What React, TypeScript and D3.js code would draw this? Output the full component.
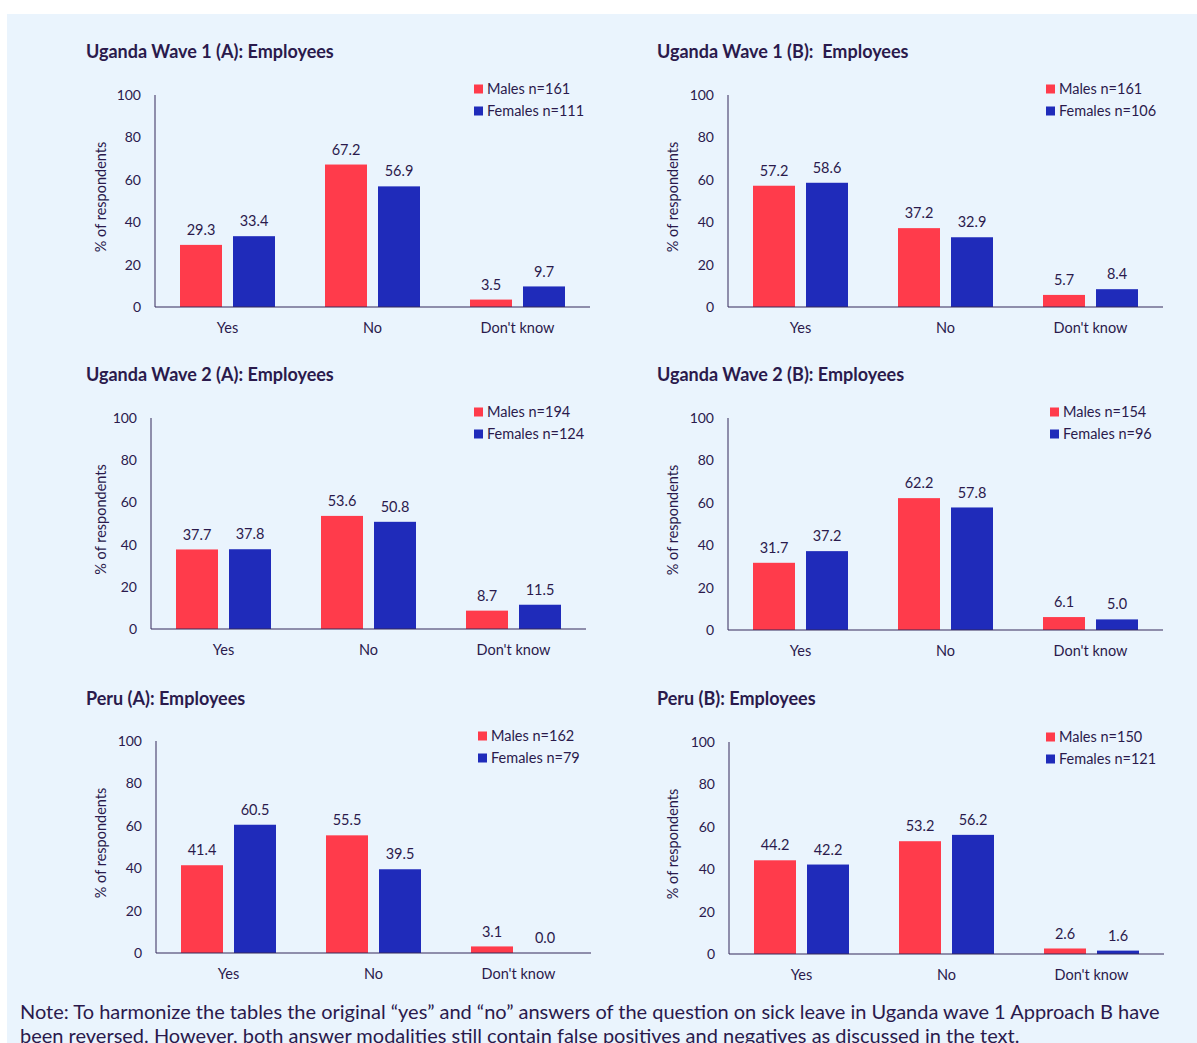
import React from "react";
import * as d3 from "d3";

// Answer categories shared by every panel
const categories = ["Yes", "No", "Don't know"];
const yTicks = [0, 20, 40, 60, 80, 100];

const titles = [
  "Uganda Wave 1 (A): Employees",
  "Uganda Wave 1 (B):  Employees",
  "Uganda Wave 2 (A): Employees",
  "Uganda Wave 2 (B): Employees",
  "Peru (A): Employees",
  "Peru (B): Employees",
];

// Share of respondents (%) per category, one row per panel
const malesValues = [
  [29.3, 67.2, 3.5],
  [57.2, 37.2, 5.7],
  [37.7, 53.6, 8.7],
  [31.7, 62.2, 6.1],
  [41.4, 55.5, 3.1],
  [44.2, 53.2, 2.6],
];
const femalesValues = [
  [33.4, 56.9, 9.7],
  [58.6, 32.9, 8.4],
  [37.8, 50.8, 11.5],
  [37.2, 57.8, 5.0],
  [60.5, 39.5, 0.0],
  [42.2, 56.2, 1.6],
];
const malesN = [161, 161, 194, 154, 162, 150];
const femalesN = [111, 106, 124, 96, 79, 121];

const noteLines = [
  "Note: To harmonize the tables the original \u201cyes\u201d and \u201cno\u201d answers of the question on sick leave in Uganda wave 1 Approach B have",
  "been reversed. However, both answer modalities still contain false positives and negatives as discussed in the text.",
];

// Panel placement on the page
const layout = [
  { titleX: 86, titleY: 52, axisX: 155, top: 95, bottom: 307, legendX: 474, legendY: 89, labelX: 101 },
  { titleX: 657, titleY: 52, axisX: 728, top: 95, bottom: 307, legendX: 1046, legendY: 89, labelX: 673 },
  { titleX: 86, titleY: 375, axisX: 151, top: 418, bottom: 629, legendX: 474, legendY: 412, labelX: 101 },
  { titleX: 657, titleY: 375, axisX: 728, top: 418, bottom: 630, legendX: 1050, legendY: 412, labelX: 673 },
  { titleX: 86, titleY: 699, axisX: 156, top: 741, bottom: 953, legendX: 478, legendY: 736, labelX: 101 },
  { titleX: 657, titleY: 699, axisX: 729, top: 742, bottom: 954, legendX: 1046, legendY: 737, labelX: 673 },
];

const W = 1197;
const H = 1043;
const BG = "#EAF4FD";
const RED = "#FF3B4B";
const BLUE = "#1F2BBA";
const TEXT = "#2A1A4C";
const AXIS = "#35295A";
const FONT = "Lato, 'Open Sans', sans-serif";
const PLOT_W = 435;

function Panel({ i }: { i: number }) {
  const L = layout[i];
  const y = d3.scaleLinear().domain([0, 100]).range([L.bottom, L.top]);
  const x0 = d3
    .scaleBand<string>()
    .domain(categories)
    .range([L.axisX, L.axisX + PLOT_W])
    .padding(0);
  const x1 = d3
    .scaleBand<string>()
    .domain(["m", "f"])
    .range([25, 120])
    .paddingInner(11 / 53);
  const series = [
    { key: "m", values: malesValues[i], color: RED },
    { key: "f", values: femalesValues[i], color: BLUE },
  ];
  const fmt = d3.format(".1f");
  return (
    <g>
      <text
        x={L.titleX}
        y={L.titleY}
        dy="0.35em"
        fontSize={18}
        fontWeight={700}
        fill={TEXT}
        style={{ whiteSpace: "pre" }}
      >
        {titles[i]}
      </text>
      {yTicks.map((t) => (
        <text key={t} x={L.axisX - 14} y={y(t)} dy="0.35em" textAnchor="end" fontSize={14} fill={TEXT}>
          {t}
        </text>
      ))}
      <text
        transform={`translate(${L.labelX},${(L.top + L.bottom) / 2 - 4}) rotate(-90)`}
        textAnchor="middle"
        dy="0.35em"
        fontSize={14.5}
        fill={TEXT}
      >
        % of respondents
      </text>
      {series.map((s) =>
        categories.map((c, j) => {
          const bx = (x0(c) as number) + (x1(s.key) as number);
          const v = s.values[j];
          return (
            <g key={s.key + c}>
              {v > 0 && (
                <rect x={bx} y={y(v)} width={x1.bandwidth()} height={y(0) - y(v)} fill={s.color} />
              )}
              <text
                x={bx + x1.bandwidth() / 2}
                y={y(v) - 15}
                dy="0.35em"
                textAnchor="middle"
                fontSize={14.5}
                fill={TEXT}
              >
                {fmt(v)}
              </text>
            </g>
          );
        })
      )}
      <line x1={L.axisX} x2={L.axisX} y1={L.top} y2={L.bottom} stroke={AXIS} strokeWidth={1} />
      <line x1={L.axisX} x2={L.axisX + PLOT_W} y1={L.bottom} y2={L.bottom} stroke={AXIS} strokeWidth={1} />
      {categories.map((c) => (
        <text
          key={c}
          x={(x0(c) as number) + x0.bandwidth() / 2}
          y={L.bottom + 21}
          dy="0.35em"
          textAnchor="middle"
          fontSize={14.5}
          fill={TEXT}
        >
          {c}
        </text>
      ))}
      {[
        { color: RED, label: `Males n=${malesN[i]}` },
        { color: BLUE, label: `Females n=${femalesN[i]}` },
      ].map((d, k) => (
        <g key={d.label} transform={`translate(${L.legendX},${L.legendY + k * 22})`}>
          <rect x={0} y={-4.5} width={9} height={9} fill={d.color} />
          <text x={13} y={0} dy="0.35em" fontSize={14.5} fill={TEXT}>
            {d.label}
          </text>
        </g>
      ))}
    </g>
  );
}

export default function App() {
  return (
    <svg
      width={W}
      height={H}
      style={{ position: "absolute", left: 0, top: 0, background: "#ffffff" }}
      fontFamily={FONT}
    >
      <rect x={7} y={14} width={W - 7} height={H - 14} fill={BG} />
      {layout.map((_, i) => (
        <Panel key={i} i={i} />
      ))}
      {noteLines.map((t, k) => (
        <text key={k} x={20} y={1012 + k * 24} dy="0.35em" fontSize={20} fill={TEXT}>
          {t}
        </text>
      ))}
    </svg>
  );
}
